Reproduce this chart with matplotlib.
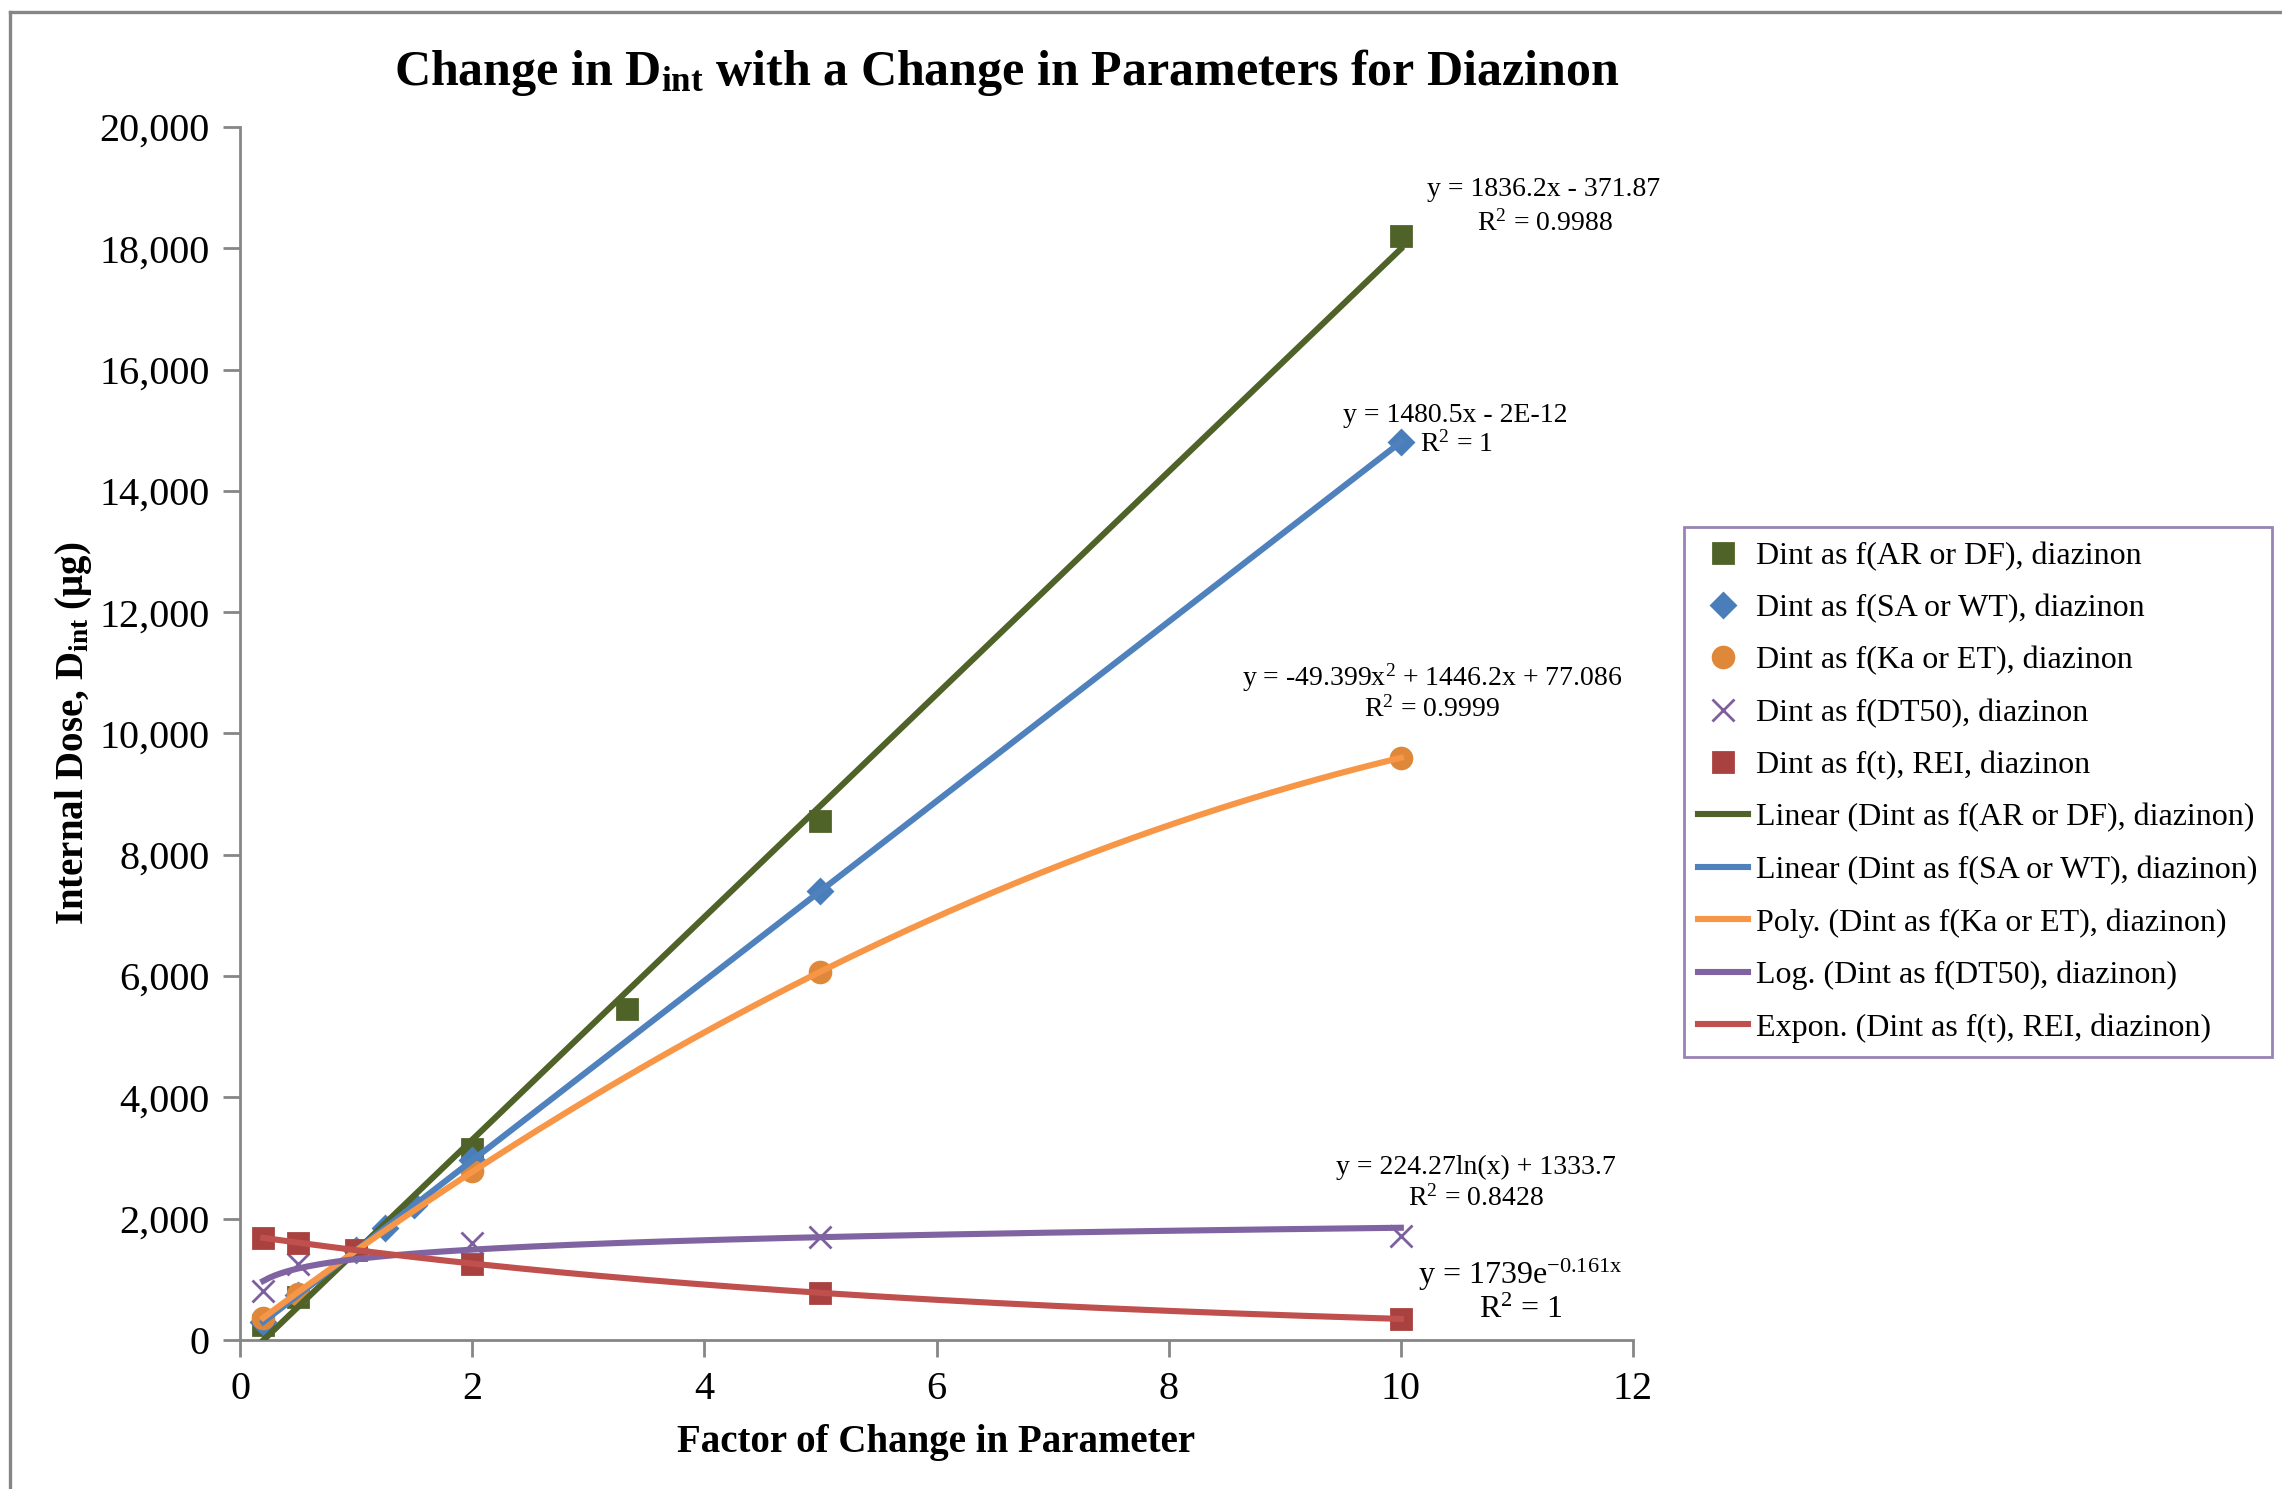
import numpy as np
import matplotlib.pyplot as plt
from matplotlib.lines import Line2D

plt.rcParams['font.family'] = ['Liberation Serif', 'DejaVu Serif']
plt.rcParams['mathtext.fontset'] = 'custom'
plt.rcParams['mathtext.rm'] = 'Liberation Serif'
plt.rcParams['mathtext.it'] = 'Liberation Serif'
plt.rcParams['mathtext.bf'] = 'Liberation Serif:bold'

# Dint vs factor of change, one series per parameter group
AR_X = [0.2, 0.5, 2, 3.33, 5, 10]
AR_Y = [250, 700, 3150, 5450, 8550, 18200]
SA_X = [0.2, 0.5, 1, 1.25, 1.5, 2, 5, 10]
SA_Y = [296, 740, 1480, 1851, 2221, 2961, 7402, 14805]
KA_X = [0.2, 0.5, 1, 2, 5, 10]
KA_Y = [360, 760, 1480, 2790, 6060, 9600]
DT_X = [0.2, 0.5, 2, 5, 10]
DT_Y = [800, 1250, 1600, 1690, 1720]
T_X = [0.2, 0.5, 1, 2, 5, 10]
T_Y = [1684, 1605, 1480, 1259, 780, 348]

# trendline coefficients
AR_FIT = (1836.2, -371.87)
SA_FIT = (1480.5, -2e-12)
KA_FIT = (-49.399, 1446.2, 77.086)
DT_FIT = (224.27, 1333.7)
T_FIT = (1739, -0.161)

GREEN = '#4F6228'
BLUE = '#4A7EBB'
BLUE_LINE = '#4F81BD'
ORANGE = '#E0883A'
ORANGE_LINE = '#F79646'
PURPLE = '#7D5FA0'
PURPLE_LINE = '#8064A2'
RED = '#A8413F'
RED_LINE = '#C0504D'

fig = plt.figure(figsize=(11.41, 7.445), dpi=200)
ax = fig.add_axes([0.1052, 0.1001, 0.6104, 0.8146])

ax.plot(AR_X, AR_Y, 's', color=GREEN, ms=7.5, ls='none', label='Dint as f(AR or DF), diazinon', zorder=3)
ax.plot(SA_X, SA_Y, 'D', color=BLUE, ms=6, ls='none', label='Dint as f(SA or WT), diazinon', zorder=3)
ax.plot(KA_X, KA_Y, 'o', color=ORANGE, ms=7.5, ls='none', label='Dint as f(Ka or ET), diazinon', zorder=3)
ax.plot(DT_X, DT_Y, 'x', color=PURPLE, ms=8, mew=1.0, ls='none', label='Dint as f(DT50), diazinon', zorder=3)
ax.plot(T_X, T_Y, 's', color=RED, ms=7.5, ls='none', label='Dint as f(t), REI, diazinon', zorder=3)

xa = np.linspace(min(AR_X), max(AR_X), 200)
ax.plot(xa, AR_FIT[0] * xa + AR_FIT[1], color=GREEN, lw=2.2,
        label='Linear (Dint as f(AR or DF), diazinon)', zorder=4)
xs = np.linspace(min(SA_X), max(SA_X), 200)
ax.plot(xs, SA_FIT[0] * xs + SA_FIT[1], color=BLUE_LINE, lw=2.2,
        label='Linear (Dint as f(SA or WT), diazinon)', zorder=4)
xk = np.linspace(min(KA_X), max(KA_X), 200)
ax.plot(xk, np.polyval(KA_FIT, xk), color=ORANGE_LINE, lw=2.2,
        label='Poly. (Dint as f(Ka or ET), diazinon)', zorder=4)
xd = np.linspace(min(DT_X), max(DT_X), 200)
ax.plot(xd, DT_FIT[0] * np.log(xd) + DT_FIT[1], color=PURPLE_LINE, lw=2.2,
        label='Log. (Dint as f(DT50), diazinon)', zorder=4)
xt = np.linspace(min(T_X), max(T_X), 200)
ax.plot(xt, T_FIT[0] * np.exp(T_FIT[1] * xt), color=RED_LINE, lw=2.2,
        label='Expon. (Dint as f(t), REI, diazinon)', zorder=4)

ax.set_xlim(0, 12)
ax.set_ylim(0, 20000)
ax.set_xticks(range(0, 13, 2))
ax.set_yticks(range(0, 20001, 2000))
ax.yaxis.set_major_formatter(plt.FuncFormatter(lambda v, p: f'{int(v):,}'))
for s in ['top', 'right']:
    ax.spines[s].set_visible(False)
for s in ['left', 'bottom']:
    ax.spines[s].set_color('#868686')
    ax.spines[s].set_linewidth(1.0)
ax.tick_params(axis='both', direction='out', length=6, width=1.0, color='#868686',
               labelsize=14.5, pad=5)

ax.set_xlabel('Factor of Change in Parameter', fontsize=14, fontweight='bold', labelpad=6)
ax.set_ylabel(r'Internal Dose, D$_{\mathbf{int}}$ ($\mathbf{\mu}$g)', fontsize=14,
              fontweight='bold', labelpad=2)
fig.text(0.441, 0.951, r'Change in D$_{\mathbf{int}}$ with a Change in Parameters for Diazinon',
         ha='center', va='center', fontsize=18, fontweight='bold')

# trendline equations
eq = dict(ha='center', va='center', fontsize=10)
ax.text(11.23, 18977, 'y = 1836.2x - 371.87', **eq)
ax.text(11.24, 18417, r'R$^2$ = 0.9988', **eq)
ax.text(10.47, 15251, 'y = 1480.5x - 2E-12', **eq)
ax.text(10.48, 14773, r'R$^2$ = 1', **eq)
ax.text(10.27, 10915, r'y = -49.399x$^2$ + 1446.2x + 77.086', **eq)
ax.text(10.27, 10404, r'R$^2$ = 0.9999', **eq)
ax.text(10.65, 2852, 'y = 224.27ln(x) + 1333.7', **eq)
ax.text(10.65, 2341, r'R$^2$ = 0.8428', **eq)
ax.text(11.03, 1072, r'y = 1739e$^{\mathrm{-0.161x}}$', ha='center', va='center', fontsize=11.5)
ax.text(11.03, 495, r'R$^2$ = 1', ha='center', va='center', fontsize=11.5)

leg = fig.legend(loc='upper left', bbox_to_anchor=(0.738, 0.646), fontsize=11.5,
                 frameon=True, fancybox=False, edgecolor=PURPLE_LINE,
                 handlelength=1.55, labelspacing=0.72, borderpad=0.45,
                 handletextpad=0.25, borderaxespad=0)
leg.get_frame().set_linewidth(1.0)

# outer chart border
fig.add_artist(Line2D([10 / 2282, 10 / 2282], [0, 1 - 12 / 1489], color='#868686', lw=1.2))
fig.add_artist(Line2D([10 / 2282, 1], [1 - 12 / 1489, 1 - 12 / 1489], color='#868686', lw=1.2))

fig.savefig('out.png', dpi=200, facecolor='white')
